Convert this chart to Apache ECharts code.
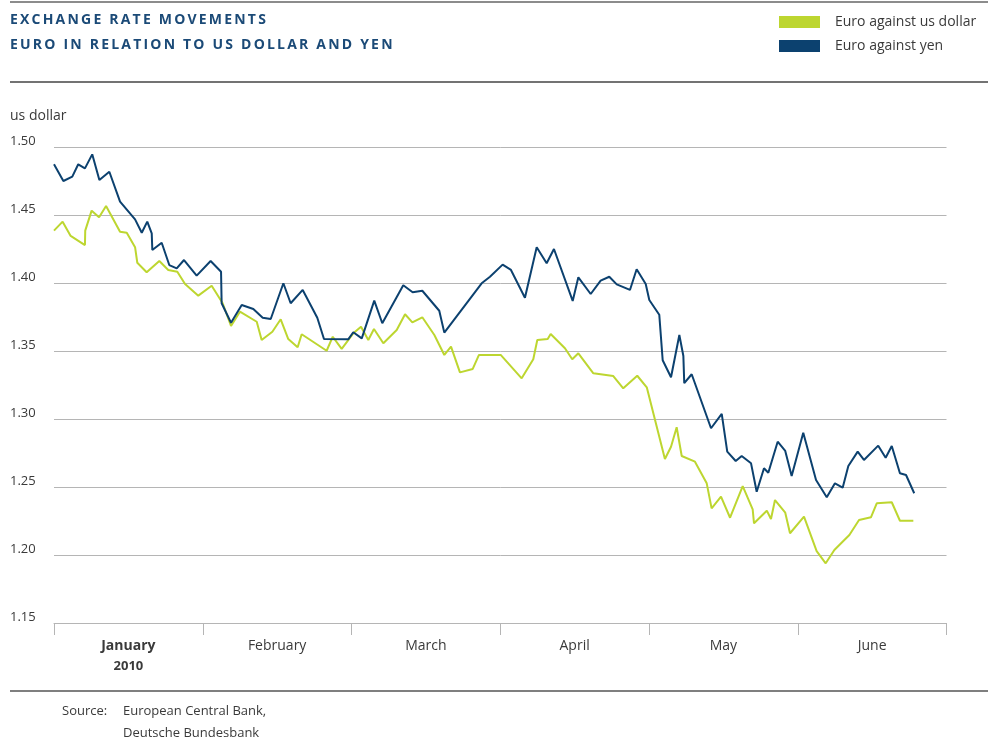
<!DOCTYPE html>
<html><head><meta charset="utf-8">
<script src="https://cdn.jsdelivr.net/npm/echarts@6/dist/echarts.min.js"></script>
<style>
html,body{margin:0;padding:0;background:#fff;}
#wrap{position:relative;width:988px;height:744px;}
#chart{width:988px;height:744px;}
.t{position:absolute;left:10px;font-family:'Open Sans',sans-serif;font-weight:700;font-size:14px;line-height:18px;color:#1b4a77;letter-spacing:2.2px;white-space:nowrap;}
</style></head>
<body><div id="wrap"><div id="chart"></div>
<div class="t" style="top:10px">EXCHANGE RATE MOVEMENTS</div>
<div class="t" style="top:35px">EURO IN RELATION TO US DOLLAR AND YEN</div></div>
<script>
// Months on the x axis (each month is one unit, time values in months since 1 Jan 2010)
const months = ['January', 'February', 'March', 'April', 'May', 'June'];
const yearLabel = '2010';
const yTickMin = 1.15, yTickMax = 1.50, yTickStep = 0.05;

// Euro against US dollar
const usdT = [0.000,0.058,0.112,0.208,0.210,0.253,0.303,0.350,0.444,0.489,0.545,0.560,0.623,0.708,0.768,0.829,0.881,0.970,
  1.060,1.134,1.190,1.250,1.363,1.396,1.468,1.524,1.575,1.638,1.665,1.833,1.874,1.934,
  2.012,2.064,2.113,2.151,2.214,2.304,2.360,2.409,2.476,2.557,2.624,2.669,2.729,2.815,2.857,
  3.003,3.144,3.222,3.249,3.319,3.339,3.435,3.484,3.525,3.626,3.760,3.827,3.921,3.985,
  4.107,4.148,4.186,4.220,4.309,4.388,4.421,4.484,4.545,4.630,4.697,4.706,4.792,4.820,4.847,4.916,4.948,
  5.042,5.127,5.188,5.246,5.347,5.412,5.492,5.531,5.632,5.687,5.777];
const usdRate = [1.4385,1.4451,1.4346,1.4279,1.4385,1.4532,1.4483,1.4566,1.4377,1.4370,1.4263,1.4149,1.4079,1.4162,1.4096,1.4083,1.3993,1.3907,
  1.3980,1.3851,1.3684,1.3789,1.3715,1.3581,1.3642,1.3733,1.3588,1.3527,1.3623,1.3502,1.3605,1.3515,
  1.3630,1.3679,1.3581,1.3662,1.3557,1.3654,1.3770,1.3711,1.3748,1.3618,1.3471,1.3532,1.3343,1.3368,1.3471,
  1.3471,1.3299,1.3439,1.3581,1.3588,1.3625,1.3520,1.3439,1.3483,1.3336,1.3316,1.3226,1.3318,1.3233,
  1.2706,1.2796,1.2939,1.2728,1.2686,1.2527,1.2343,1.2429,1.2274,1.2507,1.2336,1.2233,1.2326,1.2265,1.2404,1.2311,1.2160,
  1.2282,1.2029,1.1939,1.2037,1.2147,1.2257,1.2277,1.2380,1.2388,1.2252,1.2252];

// Euro against yen
const yenT = [0.000,0.063,0.123,0.163,0.208,0.257,0.305,0.372,0.444,0.545,0.590,0.627,0.657,0.661,0.724,0.775,0.825,0.874,0.959,
  1.053,1.123,1.127,1.190,1.262,1.340,1.403,1.457,1.542,1.591,1.672,1.770,1.815,1.978,
  2.012,2.069,2.153,2.207,2.348,2.411,2.476,2.590,2.624,2.875,2.931,
  3.016,3.072,3.166,3.245,3.312,3.361,3.487,3.525,3.608,3.675,3.733,3.783,3.872,3.917,3.978,
  4.002,4.069,4.092,4.148,4.204,4.231,4.237,4.287,4.417,4.489,4.526,4.583,4.623,4.686,4.724,4.773,4.802,4.865,4.916,4.959,
  5.037,5.123,5.195,5.250,5.302,5.340,5.403,5.445,5.541,5.591,5.632,5.687,5.728,5.783];
const yenRate = [1.4873,1.4750,1.4782,1.4873,1.4843,1.4946,1.4757,1.4818,1.4598,1.4468,1.4370,1.4451,1.4365,1.4243,1.4296,1.4132,1.4108,1.4169,1.4054,
  1.4162,1.4083,1.3851,1.3708,1.3838,1.3809,1.3745,1.3735,1.3998,1.3851,1.3949,1.3745,1.3588,1.3586,
  1.3638,1.3593,1.3870,1.3704,1.3983,1.3932,1.3943,1.3796,1.3635,1.3998,1.4046,
  1.4135,1.4096,1.3892,1.4263,1.4145,1.4250,1.3868,1.4042,1.3919,1.4017,1.4046,1.3990,1.3949,1.4101,1.3993,
  1.3875,1.3767,1.3432,1.3307,1.3618,1.3463,1.3263,1.3329,1.2932,1.3037,1.2760,1.2691,1.2728,1.2674,1.2465,1.2638,1.2605,1.2833,1.2765,1.2581,
  1.2899,1.2551,1.2424,1.2527,1.2495,1.2654,1.2760,1.2699,1.2804,1.2715,1.2801,1.2601,1.2588,1.2454];

const seriesNames = ['Euro against us dollar', 'Euro against yen'];
const FONT = "'Open Sans', sans-serif";
const TXT = '#3a3a3a';
const GREEN = '#bdd630';
const BLUE = '#0c416f';

const chart = echarts.init(document.getElementById('chart'), null, {renderer: 'canvas'});
const zip = (t, v) => t.map((x, i) => [x, v[i]]);

chart.setOption({
  backgroundColor: '#fff',
  animation: false,
  textStyle: {fontFamily: FONT},
  grid: {left: 54, right: 41.5, top: 147, bottom: 121},
  legend: {
    data: seriesNames, orient: 'vertical', left: 774, top: 10, padding: 5,
    icon: 'rect', itemWidth: 41, itemHeight: 12, itemGap: 10,
    textStyle: {fontFamily: FONT, fontSize: 14, color: TXT, padding: [0, 0, 0, 10]}
  },
  xAxis: [{
    type: 'category', data: months, boundaryGap: true, position: 'bottom',
    axisLine: {show: true, lineStyle: {color: '#b5b5b5', width: 1}},
    axisTick: {show: true, length: 12, interval: 0, lineStyle: {color: '#b5b5b5', width: 1}},
    splitLine: {show: false},
    axisLabel: {
      interval: 0, margin: 13, color: TXT, fontFamily: FONT, fontSize: 14, lineHeight: 20,
      formatter: function (v, i) { return i === 0 ? '{b|' + v + '}\n{y|' + yearLabel + '}' : v; },
      rich: {
        b: {fontWeight: 'bold', fontSize: 14, color: TXT, fontFamily: FONT, lineHeight: 20},
        y: {fontWeight: 'bold', fontSize: 13, color: TXT, fontFamily: FONT, lineHeight: 20}
      }
    }
  }, {
    type: 'value', min: 0, max: months.length, show: false
  }],
  yAxis: {
    type: 'value', min: yTickMin, max: yTickMax, interval: yTickStep,
    axisLine: {show: false}, axisTick: {show: false},
    splitLine: {show: true, lineStyle: {color: '#b5b5b5', width: 1}},
    axisLabel: {
      align: 'left', verticalAlign: 'bottom', margin: 44, lineHeight: 12,
      color: TXT, fontFamily: FONT, fontSize: 13,
      formatter: v => v.toFixed(2)
    }
  },
  graphic: [
    {type: 'line', shape: {x1: 10, y1: 2, x2: 988, y2: 2}, style: {stroke: '#8c8c8c', lineWidth: 2}},
    {type: 'line', shape: {x1: 10, y1: 82, x2: 988, y2: 82}, style: {stroke: '#444', lineWidth: 1.5}},
    {type: 'line', shape: {x1: 10, y1: 691, x2: 988, y2: 691}, style: {stroke: '#555', lineWidth: 1.5}},
    {type: 'text', left: 10, top: 109, style: {text: 'us dollar', fill: TXT, font: '14px ' + FONT}},
    {type: 'text', left: 62, top: 705, style: {text: 'Source:', fill: TXT, font: '13px ' + FONT}},
    {type: 'text', left: 123, top: 705, style: {text: 'European Central Bank,', fill: TXT, font: '13px ' + FONT}},
    {type: 'text', left: 123, top: 727, style: {text: 'Deutsche Bundesbank', fill: TXT, font: '13px ' + FONT}}
  ],
  series: [{
    name: seriesNames[0], type: 'line', xAxisIndex: 1, data: zip(usdT, usdRate),
    showSymbol: false, color: GREEN, lineStyle: {color: GREEN, width: 2}
  }, {
    name: seriesNames[1], type: 'line', xAxisIndex: 1, data: zip(yenT, yenRate),
    showSymbol: false, color: BLUE, lineStyle: {color: BLUE, width: 2}
  }]
});
</script>
</body></html>
